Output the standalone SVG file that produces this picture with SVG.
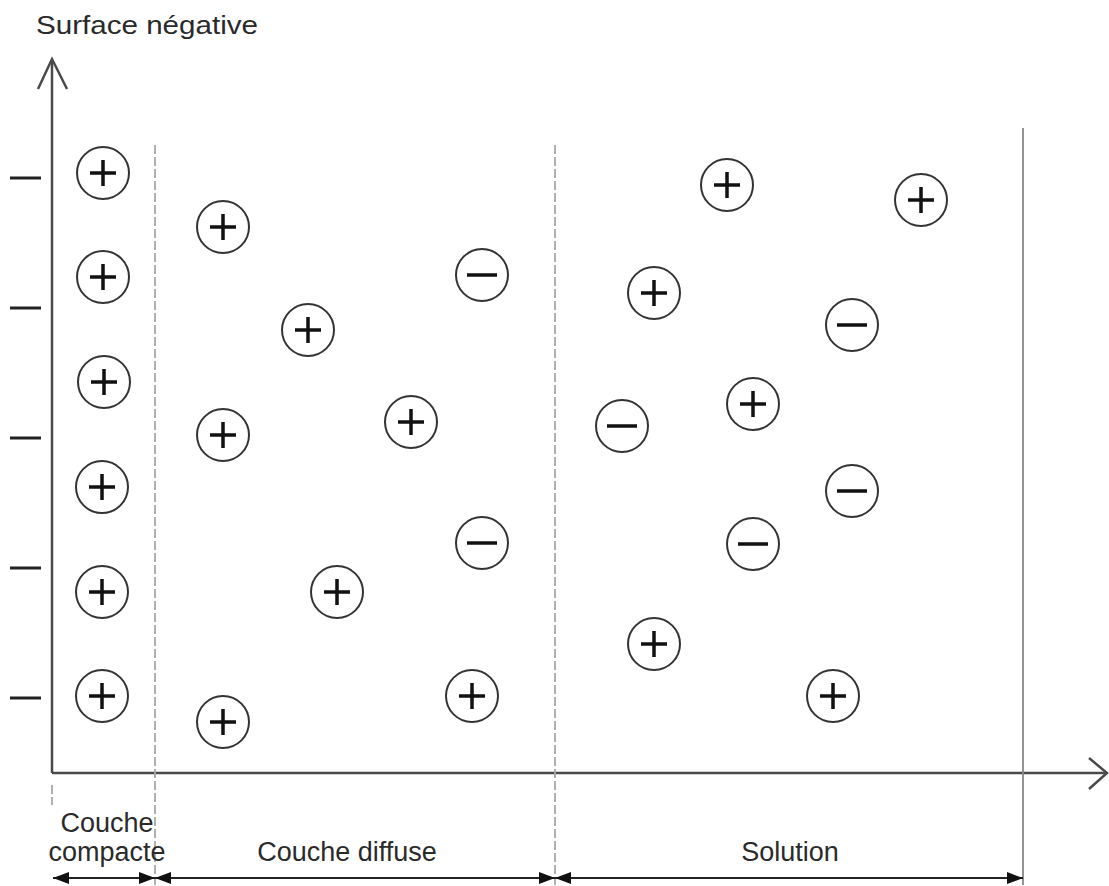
<svg xmlns="http://www.w3.org/2000/svg" width="1109" height="886" viewBox="0 0 1109 886">
  <style>
    .axis { stroke: #4a4a4a; stroke-width: 2.5; fill: none; }
    .div-dash { stroke: #a8a8a8; stroke-width: 1.8; stroke-dasharray: 9 3; fill: none; }
    .div-solid { stroke: #888; stroke-width: 1.8; fill: none; }
    .dim { stroke: #222; stroke-width: 2; fill: none; }
    .ring { fill: none; stroke: #333; stroke-width: 2; }
    .sign { fill: none; stroke: #111; stroke-width: 3.5; stroke-linecap: butt; }
    .surf { stroke: #222; stroke-width: 3; }
    text { font-family: "Liberation Sans", Arial, sans-serif; fill: #2a2a2a; }
    .lbl { font-size: 27px; text-anchor: middle; }
  </style>
  <defs>
    <marker id="head" viewBox="0 0 16 12" refX="16" refY="6" markerWidth="16" markerHeight="12" markerUnits="userSpaceOnUse" orient="auto-start-reverse">
      <path d="M0,0 L16,6 L0,12 z" fill="#111"/>
    </marker>
    <g id="plus">
      <circle class="ring" r="26" cx="0" cy="0" fill="none" stroke="#333" stroke-width="2"/>
      <path class="sign" d="M-13,0 H13 M0,-13 V13" fill="none" stroke="#111" stroke-width="3.5"/>
    </g>
    <g id="minus">
      <circle class="ring" r="26" cx="0" cy="0" fill="none" stroke="#333" stroke-width="2"/>
      <path class="sign" d="M-15,0 H15" fill="none" stroke="#111" stroke-width="3.5"/>
    </g>
  </defs>

  <rect width="1109" height="886" fill="#ffffff"/>

  <!-- axes, region boundaries and dimension lines -->
  <g id="connectors">
    <path class="axis" d="M52,773 V60"/>
    <path class="axis" d="M38,89 L52,59 L67,89"/>
    <path class="axis" d="M52,773 H1106"/>
    <path class="axis" d="M1089,758 L1107,773 L1089,789"/>
    <path class="div-dash" d="M52,785 V805"/>
    <path class="div-dash" d="M155,145 V885"/>
    <path class="div-dash" d="M555,145 V885"/>
    <path class="div-solid" d="M1023,128 V885"/>
    <path class="dim" d="M53,878 H155" marker-start="url(#head)" marker-end="url(#head)"/>
    <path class="dim" d="M155,878 H555" marker-start="url(#head)" marker-end="url(#head)"/>
    <path class="dim" d="M555,878 H1023" marker-start="url(#head)" marker-end="url(#head)"/>
  </g>

  <!-- negative surface charges -->
  <g id="surface-charges">
    <path class="surf" d="M10,178 H41 M10,308 H41 M10,438 H41 M10,568 H41 M10,698 H41"/>
  </g>

  <!-- compact layer -->
  <g id="compact-layer">
    <use href="#plus" x="103" y="173"/>
    <use href="#plus" x="103" y="277"/>
    <use href="#plus" x="104" y="382"/>
    <use href="#plus" x="102" y="487"/>
    <use href="#plus" x="102" y="592"/>
    <use href="#plus" x="102" y="696"/>
  </g>

  <!-- diffuse layer -->
  <g id="diffuse-layer">
    <use href="#plus" x="223" y="227"/>
    <use href="#minus" x="482" y="275"/>
    <use href="#plus" x="308" y="330"/>
    <use href="#plus" x="223" y="435"/>
    <use href="#plus" x="411" y="422"/>
    <use href="#minus" x="482" y="543"/>
    <use href="#plus" x="337" y="592"/>
    <use href="#plus" x="472" y="696"/>
    <use href="#plus" x="223" y="722"/>
  </g>

  <!-- bulk solution -->
  <g id="solution">
    <use href="#plus" x="727" y="185"/>
    <use href="#plus" x="921" y="200"/>
    <use href="#plus" x="654" y="293"/>
    <use href="#minus" x="852" y="325"/>
    <use href="#minus" x="622" y="426"/>
    <use href="#plus" x="753" y="404"/>
    <use href="#minus" x="852" y="491"/>
    <use href="#minus" x="753" y="544"/>
    <use href="#plus" x="654" y="644"/>
    <use href="#plus" x="833" y="696"/>
  </g>

  <!-- labels -->
  <g id="labels">
    <text x="36" y="34" font-size="26" textLength="222" lengthAdjust="spacingAndGlyphs">Surface négative</text>
    <text class="lbl" x="107" y="832">Couche</text>
    <text class="lbl" x="107" y="861">compacte</text>
    <text class="lbl" x="347" y="861">Couche diffuse</text>
    <text class="lbl" x="790" y="861">Solution</text>
  </g>
</svg>
